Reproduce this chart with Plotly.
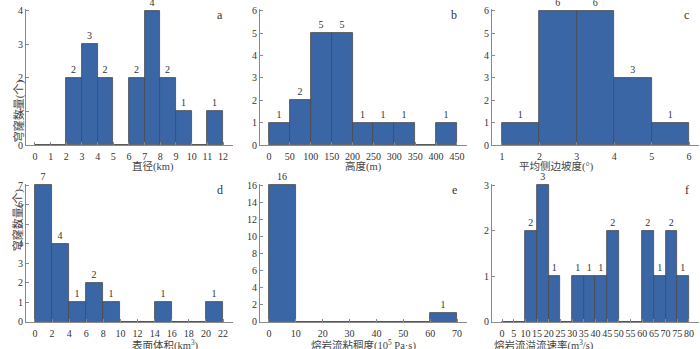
import plotly.graph_objects as go

# bin edges / counts for each panel
a_edges = [0, 1, 2, 3, 4, 5, 6, 7, 8, 9, 10, 11, 12]
a_counts = [0, 0, 2, 3, 2, 0, 2, 4, 2, 1, 0, 1]

b_edges = [0, 50, 100, 150, 200, 250, 300, 350, 400, 450]
b_counts = [1, 2, 5, 5, 1, 1, 1, 0, 1]

c_edges = [1, 2, 3, 4, 5, 6]
c_counts = [1, 6, 6, 3, 1]

d_edges = [0, 2, 4, 6, 8, 10, 12, 14, 16, 18, 20, 22]
d_counts = [7, 4, 1, 2, 1, 0, 0, 1, 0, 0, 1]

e_edges = [0, 10, 20, 30, 40, 50, 60, 70]
e_counts = [16, 0, 0, 0, 0, 0, 1]

f_edges = [0, 5, 10, 15, 20, 25, 30, 35, 40, 45, 50, 55, 60, 65, 70, 75, 80]
f_counts = [0, 0, 2, 3, 1, 0, 1, 1, 1, 2, 0, 0, 2, 1, 2, 1]

x_titles = ['直径(km)', '高度(m)', '平均侧边坡度(°)',
            '表面体积(km<sup>3</sup>)', '熔岩流粘稠度(10<sup>5</sup> Pa·s)',
            '熔岩流溢流速率(m<sup>3</sup>/s)']
y_title = '穹窿数量(个)'
letters = ['a', 'b', 'c', 'd', 'e', 'f']

y_ticks = [[0, 1, 2, 3, 4], [0, 1, 2, 3, 4, 5, 6], [0, 1, 2, 3, 4, 5, 6],
           [0, 1, 2, 3, 4, 5, 6, 7], [0, 2, 4, 6, 8, 10, 12, 14, 16], [0, 1, 2, 3]]

panels = [(a_edges, a_counts), (b_edges, b_counts), (c_edges, c_counts),
          (d_edges, d_counts), (e_edges, e_counts), (f_edges, f_counts)]

x_ranges = [[-0.574, 12.64], [-21.5, 473.9], [0.734, 6.266],
            [-1.05, 23.17], [-3.35, 73.7], [-4.28, 84.3]]
y_ranges = [[0, 4.05], [0, 6.08], [0, 6.08], [0, 7.06], [0, 16.15], [0, 3.03]]

x_dom = [[0.0371, 0.3329], [0.3714, 0.6671], [0.7029, 0.9986]]
y_dom = [[0.5845, 0.9742], [0.0774, 0.4728]]

FONT = 'Liberation Serif, Noto Sans CJK SC'
BAR = '#3A66A5'
AXC = '#8a8a8a'

fig = go.Figure()

for i, (edges, counts) in enumerate(panels):
    n = i + 1
    xa = 'x' if n == 1 else 'x%d' % n
    ya = 'y' if n == 1 else 'y%d' % n
    centers = [(edges[k] + edges[k + 1]) / 2 for k in range(len(counts))]
    widths = [edges[k + 1] - edges[k] for k in range(len(counts))]
    fig.add_trace(go.Bar(
        x=centers, y=counts, width=widths,
        text=[str(c) if c > 0 else '' for c in counts],
        textposition='outside', cliponaxis=False,
        textfont=dict(size=10, color='#333', family=FONT),
        marker=dict(color=BAR, line=dict(color='#4a4a4a', width=0.8)),
        xaxis=xa, yaxis=ya, showlegend=False, hoverinfo='skip'))

    row, col = divmod(i, 3)
    ax_common = dict(showgrid=False, zeroline=False, showline=True, linecolor=AXC,
                     linewidth=1, ticks='inside', ticklen=3, tickcolor=AXC,
                     automargin=False,
                     tickfont=dict(size=10, color='#333', family=FONT))
    fig.layout['xaxis' if n == 1 else 'xaxis%d' % n] = dict(
        ax_common, domain=x_dom[col], range=x_ranges[i], anchor=ya,
        tickmode='array', tickvals=edges, ticklabelstandoff=2, tickangle=0)
    fig.layout['yaxis' if n == 1 else 'yaxis%d' % n] = dict(
        ax_common, domain=y_dom[row], range=y_ranges[i], anchor=xa,
        tickmode='array', tickvals=y_ticks[i])

    # axis title below
    fig.add_annotation(x=sum(x_dom[col]) / 2, y=[0.522, 0.011][row],
                       xref='paper', yref='paper', text=x_titles[i], showarrow=False,
                       yanchor='middle',
                       font=dict(size=10.5, color='#444', family=FONT))
    # panel letter
    fig.add_annotation(x=x_dom[col][1] - 0.012, y=y_dom[row][1] + 0.008,
                       xref='paper', yref='paper', text=letters[i], showarrow=False,
                       xanchor='right', yanchor='top',
                       font=dict(size=12, color='#333', family=FONT))

for row in range(2):
    fig.add_annotation(x=0.014, y=sum(y_dom[row]) / 2, xref='paper', yref='paper',
                       text=y_title, showarrow=False, textangle=-90,
                       font=dict(size=11, color='#444', family=FONT))

fig.update_layout(width=700, height=349, margin=dict(l=0, r=0, t=0, b=0),
                  plot_bgcolor='white', paper_bgcolor='white', bargap=0,
                  font=dict(family=FONT))

# the page body has a default 8px margin, drop it so the figure sits at 0,0
fig.write_html("out.html", config={'displayModeBar': False},
               post_script="document.body.style.margin='0';")
